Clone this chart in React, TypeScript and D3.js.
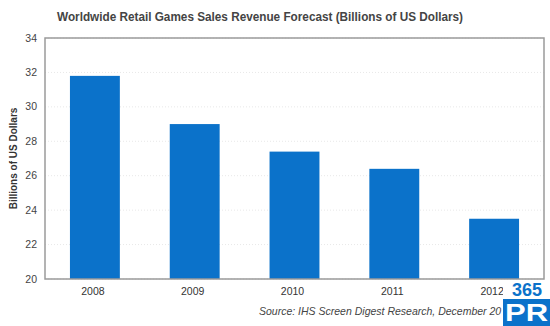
import React from "react";
import * as d3 from "d3";

const categories = ["2008", "2009", "2010", "2011", "2012"];
const values = [31.8, 29.0, 27.4, 26.4, 23.5];
const yTicks = [20, 22, 24, 26, 28, 30, 32, 34];

const W = 550, H = 326;
const M = { left: 45, right: 6, top: 38, bottom: 47 };

export default function App() {
  const x = d3.scaleBand<string>().domain(categories).range([M.left, W - M.right]).padding(0.5).paddingOuter(0.25);
  const y = d3.scaleLinear().domain([20, 34]).range([H - M.bottom, M.top]);
  const font = "Liberation Sans, Arial, sans-serif";
  return (
    <svg width={W} height={H} style={{ position: "absolute", left: 0, top: 0, background: "#fff" }}>
      <text x={260} y={21} textAnchor="middle" fontFamily={font} fontWeight="bold" fontSize={12} textLength={406} lengthAdjust="spacingAndGlyphs" fill="#444">
        Worldwide Retail Games Sales Revenue Forecast (Billions of US Dollars)
      </text>
      {yTicks.map((t) => (
        <g key={t}>
          <line x1={M.left} x2={W - M.right} y1={y(t)} y2={y(t)} stroke="#e8e8e8" strokeDasharray="1,2" />
          <text x={37} y={y(t) + 3.5} textAnchor="end" fontFamily={font} fontSize={10.5} fill="#444">{t}</text>
        </g>
      ))}
      {categories.map((c, i) => (
        <g key={c}>
          <rect x={x(c)} y={y(values[i])} width={x.bandwidth()} height={y(20) - y(values[i])} fill="#0b72ca" />
          <text x={(x(c) as number) + x.bandwidth() / 2 - 2} y={295} textAnchor="middle" fontFamily={font} fontSize={10.5} fill="#333">{c}</text>
        </g>
      ))}
      <rect x={M.left} y={M.top} width={W - M.left - M.right} height={H - M.top - M.bottom} fill="none" stroke="#9a9a9a" strokeWidth={1.5} />
      <text transform={`translate(17,${(M.top + H - M.bottom) / 2}) rotate(-90)`} textAnchor="middle" fontFamily={font} fontWeight="bold" fontSize={10} fill="#333">
        Billions of US Dollars
      </text>
      <text x={259} y={315} textAnchor="start" fontFamily={font} fontStyle="italic" fontSize={10.5} fill="#444">
        Source: IHS Screen Digest Research, December 20
      </text>
      <g>
        <rect x={503} y={280} width={47} height={46} fill="#fff" />
        <text x={527} y={296} textAnchor="middle" fontFamily={font} fontWeight="bold" fontSize={18} fill="#0b72ca">365</text>
        <rect x={503} y={299} width={47} height={27} fill="#0b72ca" />
        <text x={505} y={321} fontFamily={font} fontWeight="bold" fontSize={24} textLength={43} lengthAdjust="spacingAndGlyphs" fill="#fff">PR</text>
      </g>
    </svg>
  );
}
